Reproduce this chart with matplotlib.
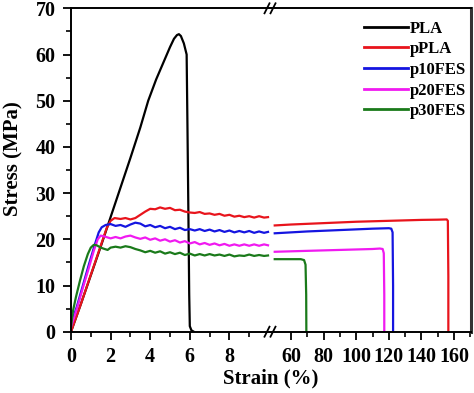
import matplotlib
matplotlib.use("Agg")
import matplotlib.pyplot as plt
from matplotlib.ticker import FixedLocator, MultipleLocator
from matplotlib.lines import Line2D

# ---------------- data ----------------
labels = ["PLA", "pPLA", "p10FES", "p20FES", "p30FES"]
colors = ["#000000", "#e8141c", "#1515e0", "#f01af0", "#1a7a1a"]

# left segment (strain 0-10 %)
pla_x = [0, 0.5, 1.0, 1.5, 2.0, 2.5, 3.0, 3.5, 3.9, 4.3, 4.7, 5.0, 5.2, 5.35, 5.45,
         5.55, 5.7, 5.84, 5.88, 5.93, 5.97, 6.0, 6.08, 6.2]
pla_y = [0, 6, 12.2, 18.4, 24.8, 31.2, 37.6, 44.2, 50.0, 54.6, 58.6, 61.6, 63.4, 64.2, 64.4,
         64.0, 62.4, 60.0, 45.0, 25.0, 8.0, 1.2, 0.3, 0]

ppla_x = [0, 0.5, 1.0, 1.5, 1.8, 2.0, 2.2, 2.5, 2.75, 3.0, 3.25, 3.5, 3.75, 4.0, 4.25,
          4.5, 4.75, 5.0, 5.25, 5.5, 5.75, 6.0, 6.25, 6.5, 6.75, 7.0, 7.25, 7.5, 7.75,
          8.0, 8.25, 8.5, 8.75, 9.0, 9.25, 9.5, 9.75, 9.95]
ppla_y = [0, 6.0, 12.3, 18.6, 22.4, 24.0, 24.6, 24.4, 24.6, 24.3, 24.6, 25.3, 26.0, 26.6, 26.5,
          26.9, 26.6, 26.8, 26.3, 26.4, 26.0, 25.8, 25.7, 25.9, 25.5, 25.6, 25.3, 25.5, 25.1,
          25.3, 24.9, 25.1, 24.8, 25.0, 24.7, 25.0, 24.7, 24.8]

p10_x = [0, 0.3, 0.6, 0.9, 1.2, 1.4, 1.55, 1.75, 2.0, 2.25, 2.5, 2.75, 3.0, 3.25, 3.5,
         3.75, 4.0, 4.25, 4.5, 4.75, 5.0, 5.25, 5.5, 5.75, 6.0, 6.25, 6.5, 6.75, 7.0,
         7.25, 7.5, 7.75, 8.0, 8.25, 8.5, 8.75, 9.0, 9.25, 9.5, 9.75, 9.95]
p10_y = [1.5, 5.5, 10.0, 14.5, 18.8, 21.5, 22.6, 23.1, 23.3, 22.9, 23.1, 22.7, 23.2, 23.6, 23.4,
         22.8, 23.1, 22.6, 22.9, 22.4, 22.7, 22.2, 22.5, 22.0, 22.2, 21.9, 22.2, 21.8, 22.1,
         21.7, 22.0, 21.6, 21.9, 21.5, 21.8, 21.5, 21.8, 21.4, 21.7, 21.4, 21.6]

p20_x = [0, 0.3, 0.6, 0.9, 1.15, 1.35, 1.5, 1.7, 2.0, 2.25, 2.5, 2.75, 3.0, 3.25, 3.5,
         3.75, 4.0, 4.25, 4.5, 4.75, 5.0, 5.25, 5.5, 5.75, 6.0, 6.25, 6.5, 6.75, 7.0,
         7.25, 7.5, 7.75, 8.0, 8.25, 8.5, 8.75, 9.0, 9.25, 9.5, 9.75, 9.95]
p20_y = [1.0, 5.0, 9.5, 13.8, 17.5, 20.0, 20.8, 20.6, 20.2, 20.5, 20.2, 20.6, 20.8, 20.4, 20.1,
         20.4, 19.9, 20.2, 19.7, 20.0, 19.5, 19.8, 19.3, 19.6, 19.1, 19.4, 18.9, 19.2, 18.8,
         19.1, 18.7, 19.0, 18.6, 18.9, 18.6, 18.9, 18.6, 18.9, 18.6, 18.9, 18.7]

p30_x = [0, 0.1, 0.25, 0.45, 0.65, 0.85, 1.0, 1.15, 1.3, 1.5, 1.7, 1.85, 2.0, 2.25, 2.5,
         2.75, 3.0, 3.25, 3.5, 3.75, 4.0, 4.25, 4.5, 4.75, 5.0, 5.25, 5.5, 5.75, 6.0,
         6.25, 6.5, 6.75, 7.0, 7.25, 7.5, 7.75, 8.0, 8.25, 8.5, 8.75, 9.0, 9.25, 9.5,
         9.75, 9.95]
p30_y = [1.0, 4.5, 7.5, 11.0, 14.2, 16.8, 18.2, 18.8, 18.7, 18.2, 17.9, 17.7, 18.2, 18.4, 18.2,
         18.5, 18.3, 17.9, 17.6, 17.2, 17.5, 17.1, 17.4, 16.9, 17.2, 16.8, 17.1, 16.6, 16.9,
         16.5, 16.8, 16.5, 16.8, 16.5, 16.7, 16.4, 16.7, 16.3, 16.5, 16.4, 16.7, 16.4, 16.6,
         16.4, 16.5]

# right segment (strain 50-170 %)
ppla_rx = [50, 60, 80, 100, 120, 140, 150, 155.5, 156.2, 156.5, 156.5]
ppla_ry = [23.0, 23.2, 23.5, 23.8, 24.0, 24.2, 24.25, 24.3, 24.0, 12.0, 0]

p10_rx = [50, 70, 90, 110, 120, 121.5, 122.3, 122.6, 122.6]
p10_ry = [21.3, 21.7, 22.0, 22.3, 22.4, 22.3, 21.5, 10.0, 0]

p20_rx = [50, 70, 90, 110, 114.5, 116.2, 116.9, 117.2, 117.2]
p20_ry = [17.3, 17.5, 17.7, 17.9, 18.0, 17.9, 17.0, 8.0, 0]

p30_rx = [50, 60, 66, 68, 68.9, 69.3, 69.4]
p30_ry = [15.7, 15.7, 15.7, 15.5, 14.5, 8.0, 0]

left_series = [(pla_x, pla_y), (ppla_x, ppla_y), (p10_x, p10_y), (p20_x, p20_y), (p30_x, p30_y)]
right_series = [None, (ppla_rx, ppla_ry), (p10_rx, p10_ry), (p20_rx, p20_ry), (p30_rx, p30_ry)]

yticks = [0, 10, 20, 30, 40, 50, 60, 70]
xticks_left = [0, 2, 4, 6, 8]
xticks_right = [60, 80, 100, 120, 140, 160]

# ---------------- figure ----------------
W, H = 474, 393
fig = plt.figure(figsize=(W / 100, H / 100), dpi=100)
plt.rcParams['font.family'] = ['Liberation Serif', 'DejaVu Serif']
plt.rcParams['font.weight'] = 'bold'

x0, xb, x1 = 71, 270, 471
ytop, ybot = 8.3, 331.7
b = 1 - ybot / H
h = (ybot - ytop) / H
axL = fig.add_axes([x0 / W, b, (xb - x0) / W, h])
axR = fig.add_axes([xb / W, b, (x1 - xb) / W, h])

lw = 1.6
handles = []
for (x, y), c, lab in zip(left_series, colors, labels):
    ln, = axL.plot(x, y, color=c, lw=lw, label=lab, solid_joinstyle='round')
    handles.append(ln)
for s, c in zip(right_series, colors):
    if s is not None:
        axR.plot(s[0], s[1], color=c, lw=lw, solid_joinstyle='round')

axL.set_xlim(0, 10.05)
axR.set_xlim(47.1, 170.4)
for ax in (axL, axR):
    ax.set_ylim(0, 70)
    for sp in ax.spines.values():
        sp.set_linewidth(1.4)
    ax.tick_params(which='major', direction='out', length=6, width=1.3,
                   labelsize=14.5, pad=5)
    ax.tick_params(which='minor', direction='out', length=3.5, width=1.2)

axL.spines['right'].set_visible(False)
axR.spines['left'].set_visible(False)
axR.spines['right'].set_color('#333333')
axR.spines['right'].set_linewidth(2.2)

axL.xaxis.set_major_locator(FixedLocator(xticks_left))
axL.xaxis.set_minor_locator(FixedLocator([1, 3, 5, 7, 9]))
axL.yaxis.set_major_locator(FixedLocator(yticks))
axL.yaxis.set_minor_locator(MultipleLocator(5))
axR.xaxis.set_major_locator(FixedLocator(xticks_right))
axR.xaxis.set_minor_locator(FixedLocator([70, 90, 110, 130, 150, 170]))
axR.yaxis.set_visible(False)
axR.tick_params(axis='y', left=False, right=False, labelleft=False)

for ax in (axL, axR):
    for t in ax.get_xticklabels() + ax.get_yticklabels():
        t.set_fontweight('bold')

axL.set_ylabel("Stress (MPa)", fontsize=15, fontweight='bold')
axL.yaxis.set_label_coords(-0.24, 0.534)
fig.text((x0 + x1) / 2 / W, 1 - 378 / H, "Strain (%)", fontsize=15, fontweight='bold',
         ha='center', va='center')

# break marks
def px(xp, yp):
    return xp / W, 1 - yp / H

for yc in (ytop, ybot):
    for dx in (-3, 3):
        xa, ya = px(xb + dx - 2.5, yc + 5)
        xb2, yb2 = px(xb + dx + 2.5, yc - 5)
        fig.add_artist(Line2D([xa, xb2], [ya, yb2], transform=fig.transFigure,
                              color='black', lw=1.3))

leg = fig.legend(handles=handles, labels=labels, loc='upper right',
                 bbox_to_anchor=(478 / W, 1 - 9 / H), frameon=False,
                 prop={'family': 'Liberation Serif', 'weight': 'bold', 'size': 12},
                 handlelength=2.6, handletextpad=0.15, labelspacing=0.28,
                 borderpad=0.2)
for l in leg.get_lines():
    l.set_linewidth(2.0)

fig.savefig("out.png", dpi=100)
